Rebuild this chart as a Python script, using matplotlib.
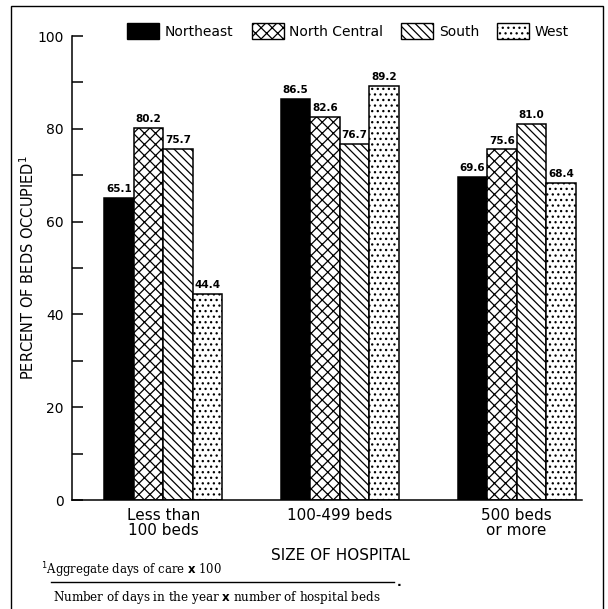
import numpy as np
import matplotlib
matplotlib.use("Agg")
import matplotlib.pyplot as plt
from matplotlib.patches import Patch, Rectangle
from matplotlib.lines import Line2D

# datos
grupos = ["Less than\n100 beds", "100-499 beds", "500 beds\nor more"]
regiones = ["Northeast", "North Central", "South", "West"]
northeast = [65.1, 86.5, 69.6]
north_central = [80.2, 82.6, 75.6]
south = [75.7, 76.7, 81.0]
west = [44.4, 89.2, 68.4]
yticks_major = [0, 20, 40, 60, 80, 100]
yticks_minor = [10, 30, 50, 70, 90]

series = [northeast, north_central, south, west]
colores = ["black", "white", "white", "white"]
tramas = [None, "xxx", "\\\\\\\\", "..."]

plt.rcParams["font.family"] = ["DejaVu Sans"]
plt.rcParams["hatch.linewidth"] = 0.9

fig = plt.figure(figsize=(6.08, 6.09), dpi=100)
ax = fig.add_axes([72 / 608, 1 - 500 / 609, 510 / 608, 464 / 609])

x = np.arange(len(grupos))
w = 0.167
for i, (vals, col, tr) in enumerate(zip(series, colores, tramas)):
    pos = x + (i - 1.5) * w
    ax.bar(pos, vals, width=w, color=col, hatch=tr, edgecolor="black",
           linewidth=1.1, label=regiones[i])
    for px, v in zip(pos, vals):
        ax.text(px, v + 0.8, f"{v:.1f}", ha="center", va="bottom",
                fontsize=7.5, fontweight="bold")

ax.set_xlim(-0.517, 2.37)
ax.set_ylim(0, 100)
ax.set_xticks(x)
ax.set_xticklabels(grupos, fontsize=11, linespacing=1.0)
ax.tick_params(axis="x", length=0, pad=6)
ax.set_yticks(yticks_major)
ax.set_yticks(yticks_minor, minor=True)
ax.tick_params(axis="y", which="both", direction="in", length=8, width=1.1,
               labelsize=10, pad=6)
for s in ["top", "right"]:
    ax.spines[s].set_visible(False)
ax.spines["left"].set_linewidth(1.1)
ax.spines["bottom"].set_linewidth(1.1)

ax.set_ylabel("PERCENT OF BEDS OCCUPIED$^1$", fontsize=10.5)
ax.yaxis.set_label_coords((37 - 72) / 510, 0.5)
fig.text(340 / 608, 1 - 556 / 609, "SIZE OF HOSPITAL", ha="center",
         va="center", fontsize=11)

# leyenda
handles = [Patch(facecolor=c, edgecolor="black", hatch=t, linewidth=1.0)
           for c, t in zip(colores, tramas)]
fig.legend(handles, regiones, ncol=4, loc="center",
           bbox_to_anchor=(348 / 608, 1 - 31 / 609), frameon=False,
           fontsize=10, handlelength=2.3, handleheight=1.3,
           handletextpad=0.4, columnspacing=1.3, borderpad=0)

# nota al pie
fig.text(41 / 608, 1 - 570 / 609, "$^1$Aggregate days of care $\\mathbf{x}$ 100",
         fontsize=8.4, family="DejaVu Serif", va="center")
fig.add_artist(Line2D([51 / 608, 394 / 608], [1 - 582 / 609, 1 - 582 / 609],
                      color="black", linewidth=1.0))
fig.text(397 / 608, 1 - 582 / 609, ".", fontsize=9, fontweight="bold",
         va="center")
fig.text(53 / 608, 1 - 598 / 609,
         "Number of days in the year $\\mathbf{x}$ number of hospital beds",
         fontsize=8.6, family="DejaVu Serif", va="center")

# marco exterior
fig.add_artist(Rectangle((11 / 608, -0.02), 592 / 608, 1.02 - 6 / 609,
                         fill=False, edgecolor="black", linewidth=1.0,
                         transform=fig.transFigure))

fig.savefig("out.png", dpi=100)
